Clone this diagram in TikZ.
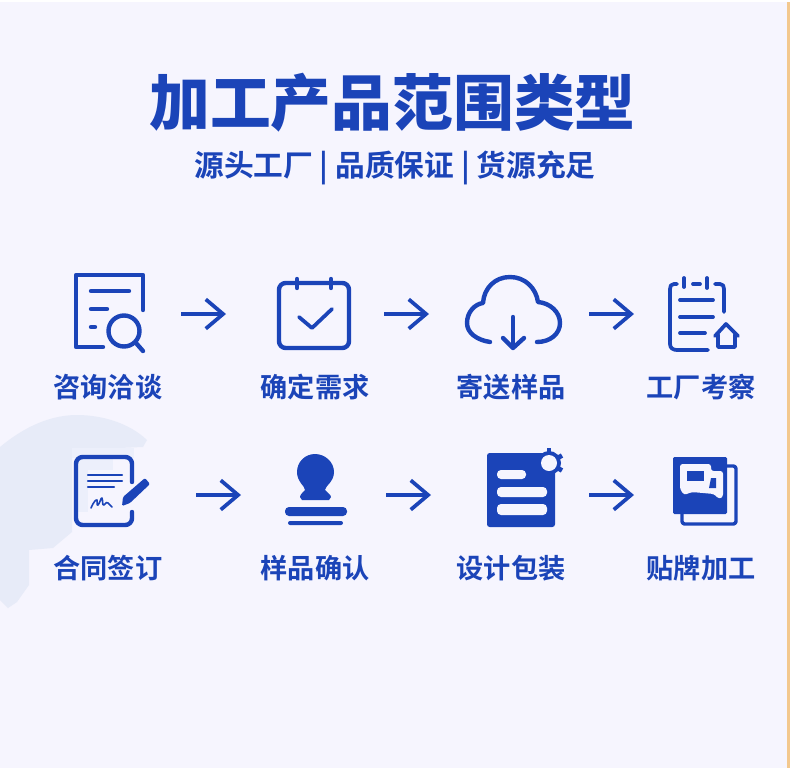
\documentclass[tikz,border=0pt]{standalone}
\usepackage{fontspec}
\usetikzlibrary{arrows.meta}
\newfontfamily\cjkbold{Noto Sans CJK SC Bold}
\newfontfamily\cjkblack{Noto Sans CJK SC Black}
\definecolor{pagebg}{HTML}{F6F5FE}
\definecolor{iconblue}{HTML}{1B44B8}
\definecolor{edgeorange}{HTML}{F3C88E}
\definecolor{blobgray}{HTML}{E7EBF8}
\definecolor{blobpale}{HTML}{ECEFFB}
\tikzset{
    iconline/.style={draw=iconblue, line width=3.3pt, line cap=round, line join=round},
    thinline/.style={draw=iconblue, line width=2.8pt, line cap=round, line join=round},
    iconfill/.style={fill=iconblue, draw=none},
    cutfill/.style={fill=pagebg, draw=none},
    flowarrow/.style={draw=iconblue, line width=2.5pt, -{Straight Barb[length=13pt, width=22pt, line width=2.8pt]}},
    steplabel/.style={text=iconblue, font=\cjkbold\fontsize{20.4}{24}\selectfont, inner sep=0pt},
}
\begin{document}
\begin{tikzpicture}[x=0.75pt, y=-0.75pt]
    \useasboundingbox (0,0) rectangle (790,768);
    \fill[white] (0,0) rectangle (790,768);
    \fill[pagebg] (0,2) rectangle (787,768);
    \fill[edgeorange] (787,2) rectangle (790,768);

    % pale blob behind the left icon
    \fill[blobgray] (0,447) .. controls (18,432) and (45,415) .. (77,415)
        .. controls (100,415) and (128,422) .. (147,440) -- (143,447) -- (72,450)
        -- (72,532) -- (53,548) -- (29,550) -- (29,585) -- (17,602) -- (8,608) -- (0,600) -- cycle;
    \fill[blobpale] (72,448) rectangle (134,458);
    \fill[blobpale] (78,459) rectangle (113,470);
    \fill[blobpale] (78,470) rectangle (88,512);

    % headings
    \node[text=iconblue, font=\cjkblack\fontsize{45.6}{54}\selectfont, inner sep=0pt] (title) at (392.5,103) {加工产品范围类型};
    \node[text=iconblue, font=\cjkbold\fontsize{22.3}{26}\selectfont, inner sep=0pt] (subtitle) at (395,168) {源头工厂 | 品质保证 | 货源充足};

    % step labels
    \node[steplabel] (talk) at (108,387) {咨询洽谈};
    \node[steplabel] (need) at (315,387) {确定需求};
    \node[steplabel] (sample) at (511,387) {寄送样品};
    \node[steplabel] (visit) at (701,387) {工厂考察};
    \node[steplabel] (sign) at (108,568) {合同签订};
    \node[steplabel] (confirm) at (315,568) {样品确认};
    \node[steplabel] (design) at (511,568) {设计包装};
    \node[steplabel] (brand) at (701,568) {贴牌加工};

    % arrows
    \coordinate (aone) at (181,314);   \coordinate (atwo) at (226,314);
    \coordinate (bone) at (384,314);   \coordinate (btwo) at (429,314);
    \coordinate (cone) at (589,314);   \coordinate (ctwo) at (634,314);
    \coordinate (done) at (196,495);   \coordinate (dtwo) at (241,495);
    \coordinate (eone) at (386,495);   \coordinate (etwo) at (431,495);
    \coordinate (fone) at (589,495);   \coordinate (ftwo) at (634,495);
    \draw[flowarrow] (aone) -- (atwo);
    \draw[flowarrow] (bone) -- (btwo);
    \draw[flowarrow] (cone) -- (ctwo);
    \draw[flowarrow] (done) -- (dtwo);
    \draw[flowarrow] (eone) -- (etwo);
    \draw[flowarrow] (fone) -- (ftwo);

    % page with magnifier
    \draw[iconline] (143,310) -- (143,275) -- (76,275) -- (76,347) -- (103,347);
    \draw[iconline] (91,291) -- (129,291);
    \draw[iconline] (91,309) -- (107,309);
    \draw[iconline] (91,327) -- (95,327);
    \draw[iconline] (124,331) circle (15.5);
    \draw[iconline] (136,343) -- (143,351);

    % calendar
    \draw[iconline, rounded corners=5pt] (279,283) rectangle (349,348);
    \draw[iconline] (297,279) -- (297,288);
    \draw[iconline] (331,279) -- (331,288);
    \draw[thinline] (299,317) -- (312,328) -- (332,309);

    % cloud
    \draw[iconline] (490,342) .. controls (477,340) and (467,333) .. (467,323)
        .. controls (467,312) and (475,304) .. (483,303)
        .. controls (484,288) and (495,277) .. (510,277)
        .. controls (525,277) and (536,288) .. (538,302)
        .. controls (550,303) and (560,312) .. (560,323)
        .. controls (560,334) and (550,342) .. (537,342);
    \draw[iconline] (513,317) -- (513,347);
    \draw[iconline] (503,338) -- (513,348) -- (524,338);

    % clipboard with house
    \draw[thinline] (677,284) -- (674,284) .. controls (671,284) and (670,286) .. (670,289)
        -- (670,344) .. controls (670,348) and (673,350) .. (677,350) -- (708,350);
    \draw[thinline] (715,284) -- (720,284) .. controls (723,284) and (724,286) .. (724,289) -- (724,312);
    \draw[thinline] (684,278) -- (684,287);
    \draw[thinline] (707,278) -- (707,288);
    \draw[thinline] (693,284) -- (700,284);
    \draw[thinline] (680,300) -- (713,300);
    \draw[thinline] (680,317) -- (713,317);
    \draw[thinline] (680,333) -- (705,333);
    \draw[thinline] (715,336) -- (726,324) -- (738,336);
    \draw[thinline] (718,335) -- (718,347) -- (735,347) -- (735,335);

    % contract with pen
    \draw[iconline, rounded corners=5pt] (132,482) -- (132,457) -- (76,457) -- (76,525) -- (132,525) -- (132,512);
    \draw[thinline, line width=1.6pt] (88,475) -- (122,475);
    \draw[thinline, line width=1.6pt] (88,481) -- (122,481);
    \draw[thinline, line width=1.6pt] (88,487) -- (114,487);
    \draw[thinline, line width=1.2pt] (91,508) .. controls (93,503) and (96,499) .. (97,500) .. controls (98,502) and (96,506) .. (98,505)
        .. controls (100,503) and (101,497) .. (102,498) .. controls (103,500) and (102,506) .. (104,505)
        .. controls (106,503) and (107,501) .. (108,503) -- (112,507);
    \fill[iconfill, rounded corners=1pt] (122,506) -- (123,497) -- (145,478) -- (150,484) -- (130,503) -- cycle;

    % stamp
    \fill[iconfill] (305,490) .. controls (305,486) and (297,482) .. (297,472)
        .. controls (297,462) and (305,454) .. (315,454)
        .. controls (325,454) and (334,462) .. (334,472)
        .. controls (334,482) and (325,486) .. (325,490)
        .. controls (327,492) and (331,495) .. (331,497) -- (329,500) -- (302,500) -- (300,497)
        .. controls (300,495) and (303,492) .. (305,490) -- cycle;
    \fill[iconfill, rounded corners=3pt] (285,507) rectangle (347,516);
    \fill[iconfill, rounded corners=1.5pt] (288,521) rectangle (343,525);

    % sheet with gear
    \fill[iconfill, rounded corners=2pt] (487,453) rectangle (555,527);
    \fill[iconfill] (549,463) circle (12);
    \draw[iconblue, line width=3.5pt] (549,448) -- (549,478);
    \draw[iconblue, line width=3.5pt] (536,455.5) -- (562,470.5);
    \draw[iconblue, line width=3.5pt] (562,455.5) -- (536,470.5);
    \fill[cutfill] (549,463) circle (8);
    \fill[cutfill, rounded corners=3pt] (497,470) rectangle (526,479);
    \fill[cutfill, rounded corners=3pt] (497,487) rectangle (547,497);
    \fill[cutfill, rounded corners=3pt] (497,504) rectangle (547,515);

    % brand book with speech bubbles
    \draw[thinline, line width=2.6pt, rounded corners=2pt] (727,466) -- (736,466) -- (736,524) -- (682,524) -- (682,514);
    \fill[iconfill, rounded corners=1pt] (673,457) rectangle (727,514);
    \fill[cutfill, rounded corners=2pt] (680,464) -- (711,464) -- (711,471) -- (723,471) -- (723,497)
        -- (719,499) -- (714,494) -- (692,492) -- (684,495) -- (680,489) -- cycle;
    \fill[iconfill] (687,471) rectangle (704,481);
    \fill[iconfill] (711,478) -- (716,478) -- (716,488) -- (709,488) -- cycle;
\end{tikzpicture}
\end{document}
